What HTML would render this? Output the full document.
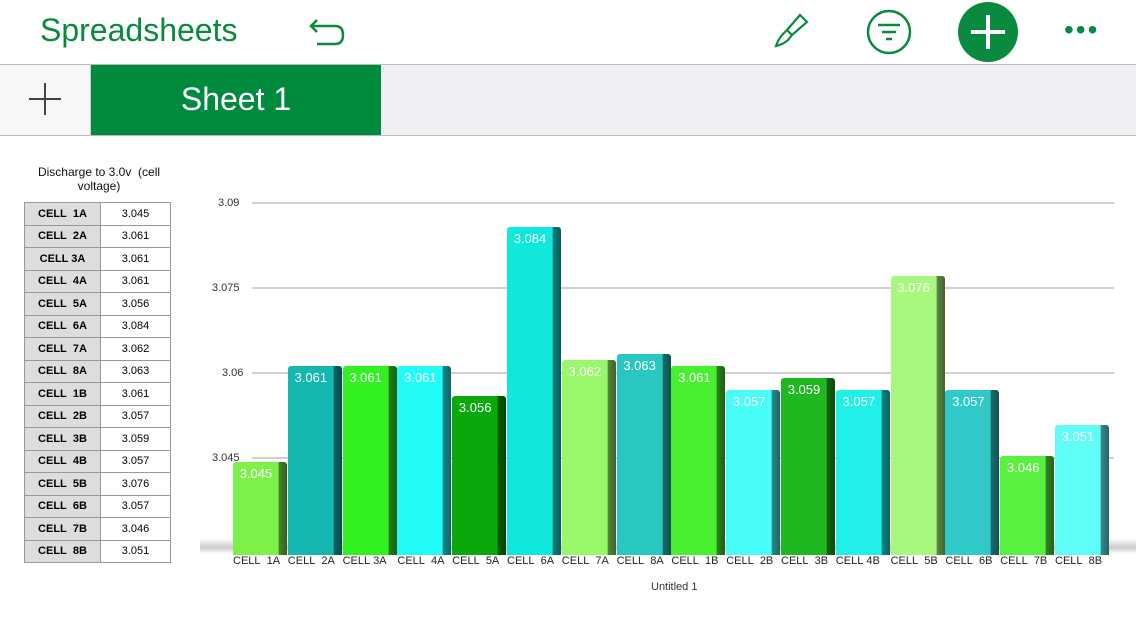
<!DOCTYPE html><html><head><style>
body{margin:0;width:1136px;height:640px;background:#fff;font-family:"Liberation Sans",Arial,sans-serif;position:relative;overflow:hidden}
.a{position:absolute}
table{border-collapse:collapse;position:absolute;left:24px;top:202px;font-size:11px}
td{border:1px solid #999;height:21.5px;padding:0;text-align:center}
td.h{background:#ddd;font-weight:bold;width:75px}
td.v{width:69px;background:#fff}
.t{font-size:11px;color:#333}
.lab{font-size:11px;color:#222;position:absolute;top:555px;white-space:nowrap}
.bar{position:absolute;bottom:85px}
.val{position:absolute;top:4px;left:0;right:8px;text-align:center;color:#fff;font-size:13px}
</style></head><body>
<div class="a" style="left:0;top:0;width:1136px;height:64px;border-bottom:1px solid #bbb"></div>
<div class="a" style="left:40px;top:12px;font-size:32px;color:#0a8a3e">Spreadsheets</div>
<svg class="a" style="left:305px;top:12px" width="45" height="36"><path d="M12 8 L6 14 L12 20 M6 14 H30 Q38 14 38 23 Q38 32 30 32 H12" fill="none" stroke="#0a8a3e" stroke-width="2.5"/></svg>
<svg class="a" style="left:770px;top:10px" width="42" height="40"><path d="M30 5 L37 12 L22 25 L17 20 Z M17 20 L12 25 Q8 30 6 36 Q14 34 18 30 L22 25" fill="none" stroke="#0a8a3e" stroke-width="2.2"/></svg>
<svg class="a" style="left:866px;top:9px" width="46" height="46"><circle cx="23" cy="23" r="21" fill="none" stroke="#0a8a3e" stroke-width="2.5"/><path d="M12 16H34M16 23H30M20 30H26" stroke="#0a8a3e" stroke-width="2.5"/></svg>
<svg class="a" style="left:957px;top:1px" width="62" height="62"><circle cx="31" cy="31" r="30" fill="#0a8a3e"/><path d="M31 14V48M14 31H48" stroke="#fff" stroke-width="4"/></svg>
<div class="a" style="left:1064px;top:14px;font-size:28px;color:#0a8a3e;letter-spacing:2px">•••</div>
<div class="a" style="left:0;top:65px;width:1136px;height:70px;background:#efeff4;border-bottom:1px solid #bbb"></div>
<div class="a" style="left:0;top:65px;width:90px;height:70px;background:#f7f7f7;border-right:1px solid #ccc"></div>
<svg class="a" style="left:28px;top:82px" width="34" height="34"><path d="M17 1V33M1 17H33" stroke="#444" stroke-width="2"/></svg>
<div class="a" style="left:91px;top:65px;width:290px;height:70px;background:#008a3e;color:#fff;font-size:32px;text-align:center;line-height:68px">Sheet 1</div>
<div class="a t" style="left:24px;top:165px;width:150px;text-align:center;font-size:12px;color:#111">Discharge to 3.0v&nbsp; (cell voltage)</div>
<table>
<tr><td class="h">CELL&nbsp; 1A</td><td class="v">3.045</td></tr>
<tr><td class="h">CELL&nbsp; 2A</td><td class="v">3.061</td></tr>
<tr><td class="h">CELL 3A</td><td class="v">3.061</td></tr>
<tr><td class="h">CELL&nbsp; 4A</td><td class="v">3.061</td></tr>
<tr><td class="h">CELL&nbsp; 5A</td><td class="v">3.056</td></tr>
<tr><td class="h">CELL&nbsp; 6A</td><td class="v">3.084</td></tr>
<tr><td class="h">CELL&nbsp; 7A</td><td class="v">3.062</td></tr>
<tr><td class="h">CELL&nbsp; 8A</td><td class="v">3.063</td></tr>
<tr><td class="h">CELL&nbsp; 1B</td><td class="v">3.061</td></tr>
<tr><td class="h">CELL&nbsp; 2B</td><td class="v">3.057</td></tr>
<tr><td class="h">CELL&nbsp; 3B</td><td class="v">3.059</td></tr>
<tr><td class="h">CELL&nbsp; 4B</td><td class="v">3.057</td></tr>
<tr><td class="h">CELL&nbsp; 5B</td><td class="v">3.076</td></tr>
<tr><td class="h">CELL&nbsp; 6B</td><td class="v">3.057</td></tr>
<tr><td class="h">CELL&nbsp; 7B</td><td class="v">3.046</td></tr>
<tr><td class="h">CELL&nbsp; 8B</td><td class="v">3.051</td></tr>
</table>
<div class="a t" style="left:218px;top:197px">3.09</div>
<div class="a t" style="left:212px;top:282px">3.075</div>
<div class="a t" style="left:222px;top:367px">3.06</div>
<div class="a t" style="left:212px;top:452px">3.045</div>
<div class="a t" style="left:218px;top:537px">3.0</div>
<div class="a" style="left:252px;top:202px;width:862px;height:2px;background:#d0d0d0"></div>
<div class="a" style="left:252px;top:287px;width:862px;height:2px;background:#d0d0d0"></div>
<div class="a" style="left:252px;top:372px;width:862px;height:2px;background:#d0d0d0"></div>
<div class="a" style="left:252px;top:457px;width:862px;height:2px;background:#d0d0d0"></div>
<div class="a" style="left:200px;top:538px;width:936px;height:16px;background:linear-gradient(#fff,#ccc 60%,#fff)"></div>
<div id="bars"></div>
<div class="a t" style="left:651px;top:581px">Untitled 1</div>
<script>
var d=[["CELL  1A",3.045,462,"#7ef04a"],["CELL  2A",3.061,366,"#14b8b0"],["CELL 3A",3.061,366,"#33f020"],["CELL  4A",3.061,366,"#22fcf8"],["CELL  5A",3.056,396,"#0aa80a"],["CELL  6A",3.084,227,"#10e8dc"],["CELL  7A",3.062,360,"#98f86a"],["CELL  8A",3.063,354,"#28c8c0"],["CELL  1B",3.061,366,"#48f030"],["CELL  2B",3.057,390,"#48fcf8"],["CELL  3B",3.059,378,"#20b820"],["CELL 4B",3.057,390,"#20f0e8"],["CELL  5B",3.076,276,"#a8f880"],["CELL  6B",3.057,390,"#30c8c8"],["CELL  7B",3.046,456,"#5af040"],["CELL  8B",3.051,425,"#60fcf8"]];
var h="";d.forEach(function(b,i){var x=233+i*54.8;
h+='<div class="bar" style="left:'+x+'px;top:'+b[2]+'px;width:54px;background:linear-gradient(90deg,'+b[3]+' 0,'+b[3]+' 84%,rgba(0,0,0,.45) 85%,rgba(0,0,0,.6) 100%),'+b[3]+';border-radius:3px 3px 0 0"><div class="val">'+b[1].toFixed(3)+'</div></div>';
h+='<div class="lab" style="left:'+(x)+'px">'+b[0].replace(/ /g,"&nbsp;")+'</div>';});
document.getElementById("bars").innerHTML=h;
</script>
</body></html>
